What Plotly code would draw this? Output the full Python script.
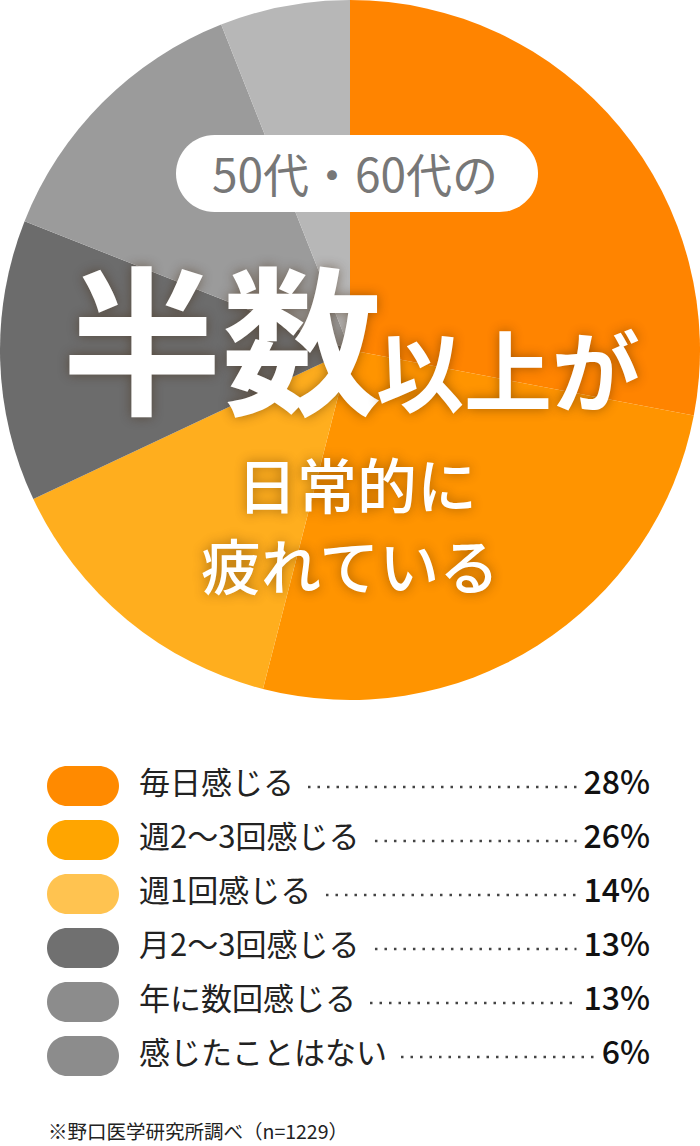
import plotly.graph_objects as go

# data
labels = ['毎日感じる', '週2〜3回感じる', '週1回感じる', '月2〜3回感じる', '年に数回感じる', '感じたことはない']
values = [28, 26, 14, 13, 13, 6]
pie_colors = ['#FF8400', '#FF9400', '#FFAE1E', '#6C6C6C', '#9B9B9B', '#B7B7B7']
legend_colors = ['#FF8A00', '#FFA500', '#FFC350', '#707070', '#8C8C8C', '#8C8C8C']
pct_labels = [f'{v}%' for v in values]

subtitle = '50代・60代の'
head_big = '半数'
head_small = '以上が'
head_lines = ['日常的に', '疲れている']
source = '※野口医学研究所調べ（n=1229）'

W, H = 700, 1146
FONT = 'Noto Sans CJK JP'

ROW0, ROW_STEP = 786, 54
LABEL_X, PCT_X = 139, 650
LABEL_SIZE, PCT_SIZE = 31, 32


def text_w(s, size, narrow=0.58):
    return sum(size if ord(c) > 0x2000 else narrow * size for c in s)


def pill(x0, y0, x1, y1, color):
    r = (y1 - y0) / 2
    k = 0.5523 * r
    path = (f'M {x0 + r},{y0} L {x1 - r},{y0} '
            f'C {x1 - r + k},{y0} {x1},{y0 + r - k} {x1},{y0 + r} '
            f'C {x1},{y0 + r + k} {x1 - r + k},{y1} {x1 - r},{y1} '
            f'L {x0 + r},{y1} '
            f'C {x0 + r - k},{y1} {x0},{y0 + r + k} {x0},{y0 + r} '
            f'C {x0},{y0 + r - k} {x0 + r - k},{y0} {x0 + r},{y0} Z')
    return dict(type='path', path=path, xref='x', yref='y', layer='above',
                fillcolor=color, line=dict(width=0))


fig = go.Figure()

# pie
fig.add_trace(go.Pie(
    labels=labels, values=values, sort=False, direction='clockwise', rotation=0,
    marker=dict(colors=pie_colors, line=dict(width=0)),
    textinfo='none', hoverinfo='skip', showlegend=False,
    domain=dict(x=[0, 1], y=[1 - 700 / H, 1]),
))

row_y = [ROW0 + ROW_STEP * i for i in range(len(labels))]

# legend labels and percentages
fig.add_trace(go.Scatter(
    x=[LABEL_X] * len(labels), y=row_y, text=labels, mode='text',
    textposition='middle right', cliponaxis=False, hoverinfo='skip',
    textfont=dict(family=FONT, size=LABEL_SIZE, color='#222222'),
    showlegend=False,
))
fig.add_trace(go.Scatter(
    x=[PCT_X] * len(values), y=row_y, text=pct_labels, mode='text',
    textposition='middle left', cliponaxis=False, hoverinfo='skip',
    textfont=dict(family=FONT, size=PCT_SIZE, color='#111111', weight=500),
    showlegend=False,
))

shapes = [pill(176, 135, 538, 212, 'white')]
for lab, pct, col, y in zip(labels, pct_labels, legend_colors, row_y):
    shapes.append(pill(47, y - 20, 119, y + 20, col))
    xs = LABEL_X + text_w(lab, LABEL_SIZE) + 14
    xe = PCT_X - text_w(pct, PCT_SIZE, 0.62) - 14
    shapes.append(dict(type='line', xref='x', yref='y', x0=xs, x1=xe, y0=y + 1, y1=y + 1,
                       layer='above', line=dict(color='#444444', width=2.5, dash='2.5px,7px')))

glow = '0px 0px 12px rgba(60,30,0,0.45)'
annotations = [
    dict(x=355, y=172, text=subtitle, showarrow=False, xref='x', yref='y',
         xanchor='center', yanchor='middle',
         font=dict(family=FONT, size=46, color='#777777')),
    dict(x=222, y=333, text=head_big, showarrow=False, xref='x', yref='y',
         xanchor='center', yanchor='middle',
         font=dict(family=FONT, size=160, color='white', weight=700, shadow=glow)),
    dict(x=508, y=366, text=head_small, showarrow=False, xref='x', yref='y',
         xanchor='center', yanchor='middle',
         font=dict(family=FONT, size=88, color='white', weight=700, shadow=glow)),
    dict(x=357, y=482, text=head_lines[0], showarrow=False, xref='x', yref='y',
         xanchor='center', yanchor='middle',
         font=dict(family=FONT, size=60, color='white', weight=500, shadow=glow)),
    dict(x=350, y=563, text=head_lines[1], showarrow=False, xref='x', yref='y',
         xanchor='center', yanchor='middle',
         font=dict(family=FONT, size=60, color='white', weight=500, shadow=glow)),
    dict(x=46, y=1130, text=source, showarrow=False, xref='x', yref='y',
         xanchor='left', yanchor='middle',
         font=dict(family=FONT, size=19.5, color='#222222')),
]

axis_ = dict(visible=False, showgrid=False, zeroline=False, fixedrange=True)
fig.update_layout(
    width=W, height=H, autosize=False,
    margin=dict(l=0, r=0, t=0, b=0, pad=0),
    paper_bgcolor='white', plot_bgcolor='rgba(0,0,0,0)',
    xaxis=dict(range=[0, W], domain=[0, 1], **axis_),
    yaxis=dict(range=[H, 0], domain=[0, 1], **axis_),
    shapes=shapes, annotations=annotations, showlegend=False,
)

fig.write_html('out.html', config={'displayModeBar': False},
               post_script="document.body.style.margin='0';")
